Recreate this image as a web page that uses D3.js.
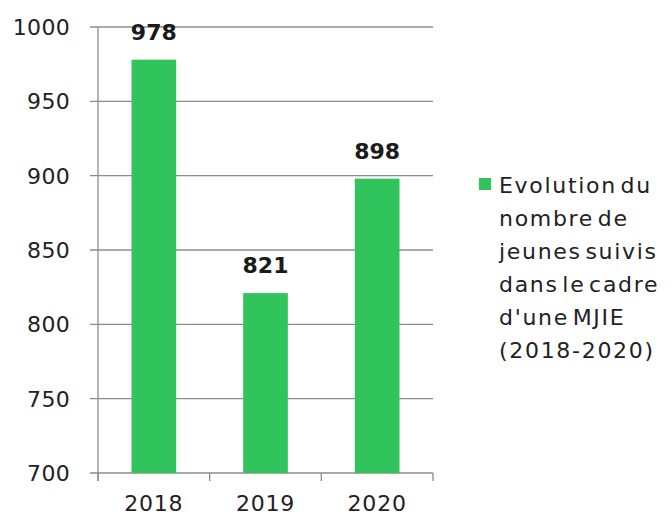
<!DOCTYPE html>
<html>
<head>
<meta charset="utf-8">
<script src="https://cdn.jsdelivr.net/npm/d3@7"></script>
<style>
body { margin: 0; background: #fff; }
text { font-family: "DejaVu Sans", sans-serif; }
</style>
</head>
<body>
<div id="chart"></div>
<script>
var years = ["2018", "2019", "2020"]
var values = [978, 821, 898]
var yTicks = [700, 750, 800, 850, 900, 950, 1000]
var legendLines = ["Evolution du", "nombre de", "jeunes suivis", "dans le cadre", "d'une MJIE", "(2018-2020)"]

var margin = {top: 27, left: 98, right: 239, bottom: 46}
var W = 672, H = 519
var width = W - margin.left - margin.right
var height = H - margin.top - margin.bottom

var svg = d3.select("#chart").append("svg")
    .attr("width", W).attr("height", H)
var g = svg.append("g")
    .attr("transform", "translate(" + margin.left + "," + margin.top + ")")

var x = d3.scaleBand().domain(years).range([0, width]).paddingInner(0.6).paddingOuter(0.3)
var y = d3.scaleLinear().domain([700, 1000]).range([height, 0])

// gridlines + left ticks
g.append("g").selectAll("line").data(yTicks).enter().append("line")
    .attr("x1", -8).attr("x2", width)
    .attr("y1", d => y(d)).attr("y2", d => y(d))
    .attr("stroke", "#8c8c8c").attr("stroke-width", 1.3)

g.append("g").selectAll("text").data(yTicks).enter().append("text")
    .attr("x", -28).attr("y", d => y(d)).attr("dy", "0.36em")
    .attr("text-anchor", "end")
    .style("font-size", "22px").style("letter-spacing", "0.3px").style("fill", "#222")
    .text(d => d)

// bars
g.append("g").selectAll("rect").data(values).enter().append("rect")
    .attr("x", (d, i) => x(years[i]))
    .attr("y", d => y(d))
    .attr("width", x.bandwidth())
    .attr("height", d => height - y(d))
    .attr("fill", "#31c45d")

// value labels
g.append("g").selectAll("text").data(values).enter().append("text")
    .attr("x", (d, i) => x(years[i]) + x.bandwidth() / 2)
    .attr("y", d => y(d) - 20)
    .attr("text-anchor", "middle")
    .style("font-size", "22px").style("font-weight", "bold").style("fill", "#1a1a1a")
    .text(d => d)

// axes lines
g.append("line").attr("x1", 0).attr("x2", 0).attr("y1", 0).attr("y2", height + 8)
    .attr("stroke", "#8c8c8c").attr("stroke-width", 1.3)

var step = width / years.length
g.append("g").selectAll("line").data(d3.range(years.length + 1)).enter().append("line")
    .attr("x1", d => d * step).attr("x2", d => d * step)
    .attr("y1", height).attr("y2", height + 8)
    .attr("stroke", "#8c8c8c").attr("stroke-width", 1.3)

g.append("g").selectAll("text").data(years).enter().append("text")
    .attr("x", d => x(d) + x.bandwidth() / 2)
    .attr("y", height + 38)
    .attr("text-anchor", "middle")
    .style("font-size", "22px").style("letter-spacing", "0.8px").style("fill", "#222")
    .text(d => d)

// legend
var lg = svg.append("g").attr("transform", "translate(479,178)")
lg.append("rect").attr("width", 12).attr("height", 12).attr("fill", "#31c45d")
lg.selectAll("text").data(legendLines).enter().append("text")
    .attr("x", 20).attr("y", (d, i) => 15 + i * 33)
    .style("font-size", "22px").style("letter-spacing", "1.7px").style("word-spacing", "-5px").style("fill", "#222")
    .text(d => d)
</script>
</body>
</html>
